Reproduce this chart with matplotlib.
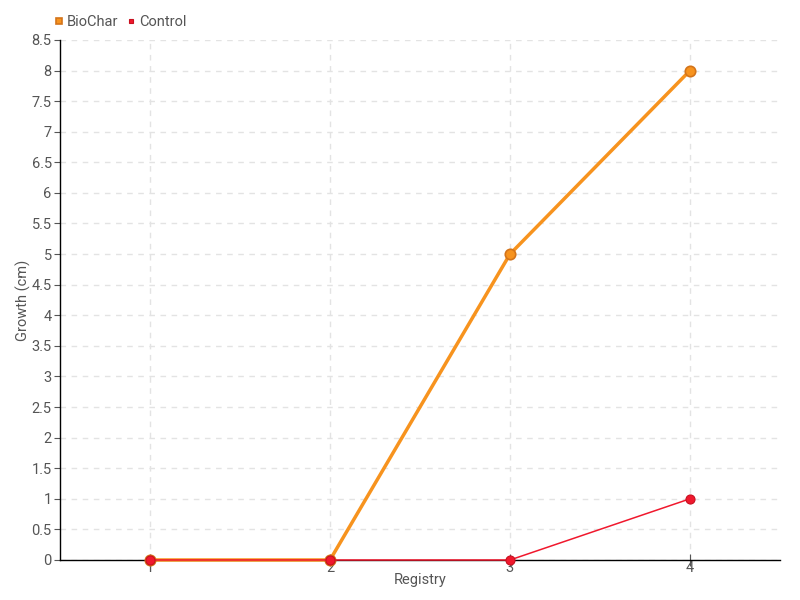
import matplotlib
matplotlib.use('Agg')
import matplotlib.pyplot as plt
import numpy as np

registry = [1, 2, 3, 4]
biochar = [0, 0, 5, 8]
control = [0, 0, 0, 1]

plt.rcParams['font.family'] = ['Roboto', 'DejaVu Sans']

fig = plt.figure(figsize=(8, 6), dpi=100)
ax = fig.add_axes([0.075, 0.0667, 0.9, 0.8667])

ax.plot(registry, biochar, color='#f7931e', lw=2.5, marker='o', ms=7.5,
        mfc='#f7931e', mec='#d4741a', mew=1.2, label='BioChar', zorder=3,
        clip_on=False)
ax.plot(registry, control, color='#f0182d', lw=1.1, marker='o', ms=6.5,
        mfc='#f0182d', mec='#c8101f', mew=0.8, label='Control', zorder=4,
        clip_on=False)

ax.set_xlim(0.5, 4.5)
ax.set_ylim(0, 8.5)
ax.set_xticks(registry)
ax.set_xticklabels([str(r) for r in registry])
yt = np.arange(0, 8.51, 0.5)
ax.set_yticks(yt)
ax.set_yticklabels(['%g' % v for v in yt])

ax.grid(True, color='#e3e3e3', ls=(0, (4, 4)), lw=1)
ax.set_axisbelow(True)
for s in ['top', 'right']:
    ax.spines[s].set_visible(False)
for s in ['left', 'bottom']:
    ax.spines[s].set_color('black')
    ax.spines[s].set_linewidth(1)

ax.tick_params(axis='y', length=4, colors='#555555', labelsize=10.5, pad=2)
ax.tick_params(axis='x', length=9, direction='inout', colors='#555555',
               labelsize=10.5, pad=-4)
ax.set_xlabel('Registry', color='#555555', fontsize=10.5, labelpad=-1)
ax.set_ylabel('Growth (cm)', color='#555555', fontsize=10.5)
ax.yaxis.set_label_coords(-0.04, 0.5)

leg = ax.legend(loc='lower left', bbox_to_anchor=(-0.025, 0.995), ncol=2, frameon=False,
                handlelength=0.5, handletextpad=0.3, columnspacing=0.6,
                fontsize=10.5, markerscale=0.55)
for h in leg.legend_handles:
    h.set_linestyle('')
    h.set_marker('s')
for t in leg.get_texts():
    t.set_color('#555555')

fig.savefig('out.png', dpi=100)
